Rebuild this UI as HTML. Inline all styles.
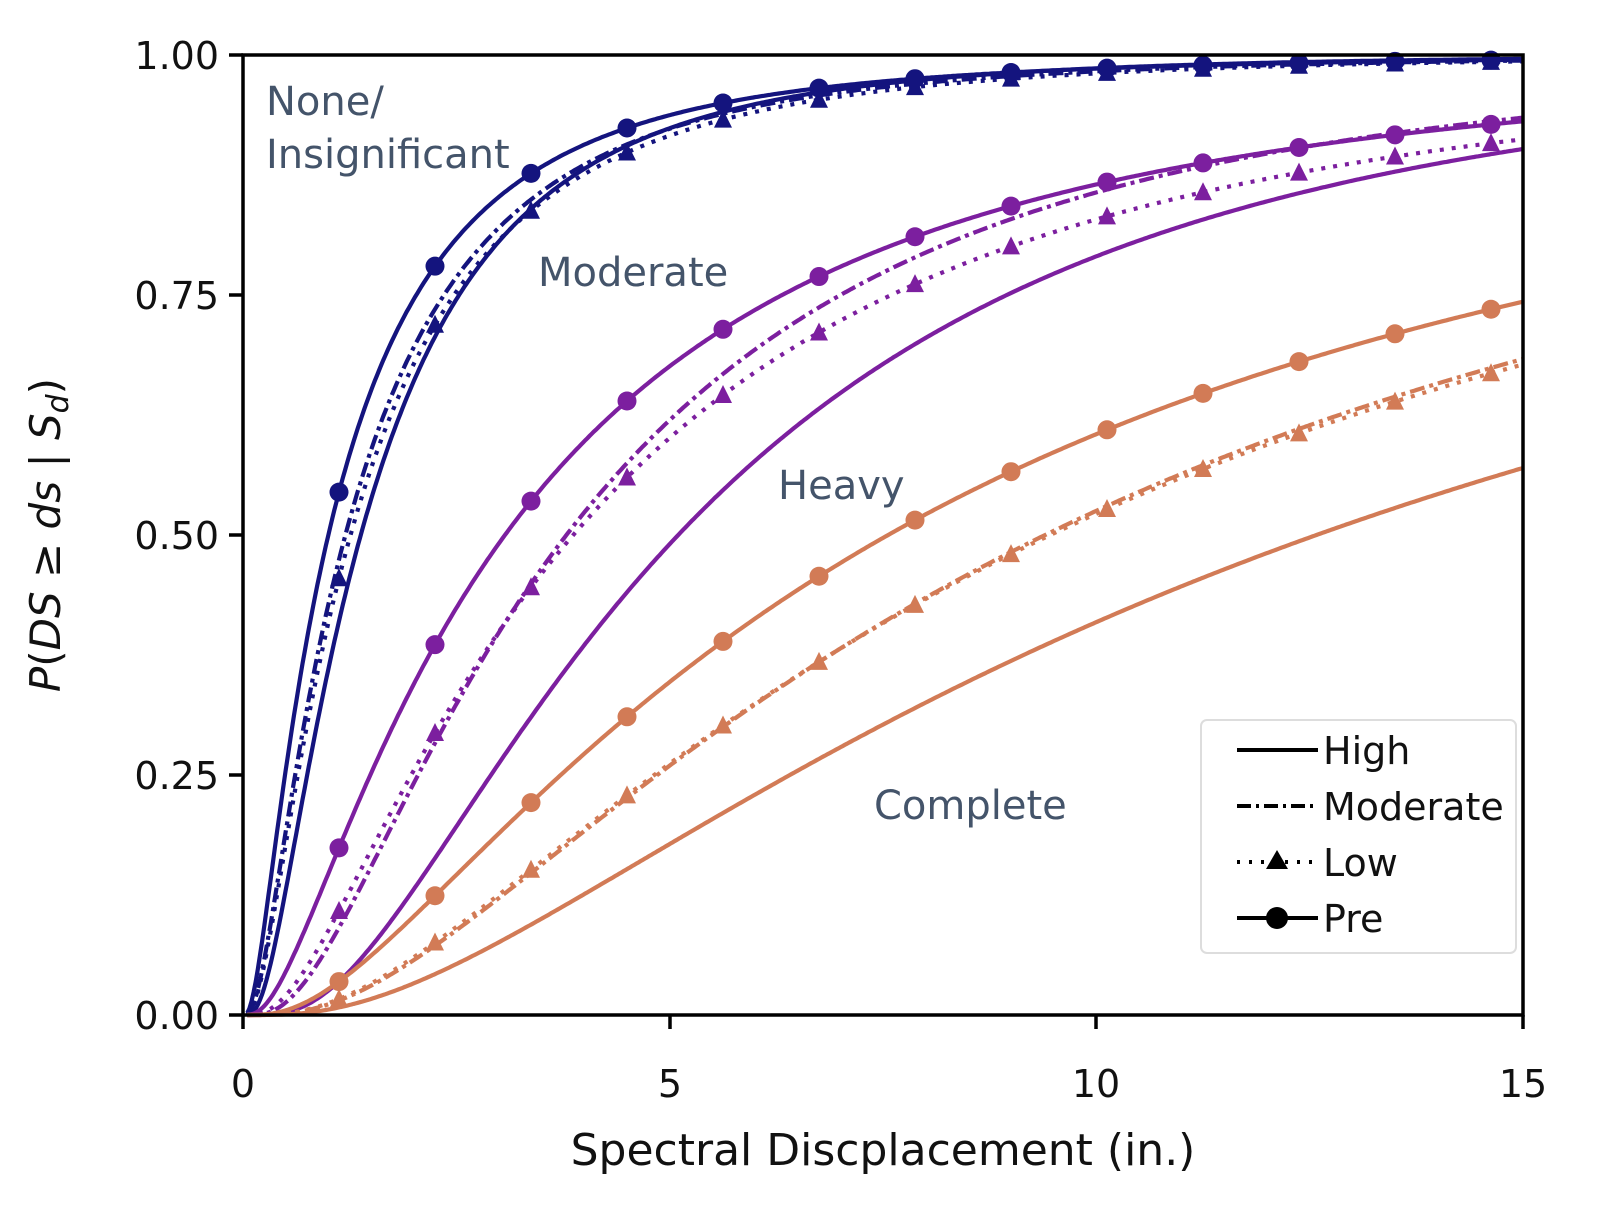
<!DOCTYPE html>
<html><head><meta charset="utf-8"><style>
html,body{margin:0;padding:0;background:#fff}
svg{display:block}
text{font-family:"DejaVu Sans","Liberation Sans",sans-serif}
</style></head><body>
<svg id="s" width="1598" height="1227" viewBox="0 0 1598 1227" xmlns="http://www.w3.org/2000/svg">
<rect width="1598" height="1227" fill="#fff"/>
<g id="curves"></g>
<rect x="243" y="55" width="1280" height="960" fill="none" stroke="#000" stroke-width="3.5"/>
<g stroke="#000" stroke-width="3.5">
<line x1="243" y1="1015" x2="243" y2="1029"/><line x1="670" y1="1015" x2="670" y2="1029"/><line x1="1096" y1="1015" x2="1096" y2="1029"/><line x1="1523" y1="1015" x2="1523" y2="1029"/>
<line x1="229" y1="1015" x2="243" y2="1015"/><line x1="229" y1="775" x2="243" y2="775"/><line x1="229" y1="535" x2="243" y2="535"/><line x1="229" y1="295" x2="243" y2="295"/><line x1="229" y1="55" x2="243" y2="55"/>
</g>
<g font-size="38" fill="#111" text-anchor="end">
<text x="219" y="1029">0.00</text><text x="219" y="789">0.25</text><text x="219" y="549">0.50</text><text x="219" y="309">0.75</text><text x="219" y="69">1.00</text>
</g>
<g font-size="38" fill="#111" text-anchor="middle">
<text x="243" y="1097">0</text><text x="670" y="1097">5</text><text x="1096" y="1097">10</text><text x="1523" y="1097">15</text>
</g>
<text x="883" y="1165" font-size="44" text-anchor="middle" fill="#111">Spectral Discplacement (in.)</text>
<text transform="translate(60,535) rotate(-90)" font-size="42" text-anchor="middle" fill="#111"><tspan font-style="italic">P</tspan>(<tspan font-style="italic">DS</tspan> ≥ <tspan font-style="italic">ds</tspan> | <tspan font-style="italic">S</tspan><tspan font-style="italic" font-size="30" dy="8">d</tspan><tspan dy="-8">)</tspan></text>
<g font-size="40" fill="#44546a">
<text x="266" y="115">None/</text>
<text x="266" y="168">Insignificant</text>
<text x="538" y="286">Moderate</text>
<text x="778" y="499">Heavy</text>
<text x="874" y="819">Complete</text>
</g>
<rect x="1201" y="720" width="315" height="233" rx="6" fill="#fff" stroke="#ddd" stroke-width="2"/>
<g stroke="#000" stroke-width="4" fill="none">
<line x1="1237" y1="750" x2="1318" y2="750"/>
<line x1="1237" y1="806" x2="1318" y2="806" stroke-dasharray="14,5,3,5"/>
<line x1="1237" y1="862" x2="1318" y2="862" stroke-dasharray="3,9"/>
<line x1="1237" y1="918" x2="1318" y2="918"/>
</g>
<polygon points="1277,850 1266,869 1288,869" fill="#000"/>
<circle cx="1277" cy="918" r="11" fill="#000"/>
<g font-size="38" fill="#111">
<text x="1323" y="764">High</text><text x="1323" y="820">Moderate</text><text x="1323" y="876">Low</text><text x="1323" y="932">Pre</text>
</g>
</svg>
<script>
function erf(x){var s=x<0?-1:1;x=Math.abs(x);var t=1/(1+0.3275911*x);var y=1-(((((1.061405429*t-1.453152027)*t)+1.421413741)*t-0.284496736)*t+0.254829592)*t*Math.exp(-x*x);return s*y;}
function cdf(x,th,b){if(x<=0)return 0;return 0.5*(1+erf(Math.log(x/th)/b/Math.SQRT2));}
function X(v){return 243+v*1280/15;}function Y(p){return 1015-p*960;}
var N="#14147e",P="#7c1f9f",O="#d27b56";
var series=[
[N,1.38,0.9,'s'],[N,1.2,1.0,'m'],[N,1.26,1.0,'l'],[N,1.0,1.05,'p'],
[P,5.1,0.834,'s'],[P,3.79,0.91,'m'],[P,3.87,1.0,'l'],[P,3.07,1.07,'p'],
[O,12.58,1.0,'s'],[O,9.4,0.98,'m'],[O,9.46,1.0,'l'],[O,7.56,1.05,'p']];
var g=document.getElementById('curves'),h="";
series.forEach(function(s){var d="";for(var i=0;i<=600;i++){var x=0.05+i*(15-0.05)/600;d+=(i?"L":"M")+X(x).toFixed(1)+","+Y(cdf(x,s[1],s[2])).toFixed(1);}
var da=s[3]=='m'?' stroke-dasharray="15,5,4,5"':(s[3]=='l'?' stroke-dasharray="4,8"':'');
h+='<path d="'+d+'" fill="none" stroke="'+s[0]+'" stroke-width="4.2"'+da+'/>';
if(s[3]=='p'||s[3]=='l'){for(var k=1;k<=13;k++){var x=k*1.125,cx=X(x),cy=Y(cdf(x,s[1],s[2]));
if(s[3]=='p')h+='<circle cx="'+cx+'" cy="'+cy+'" r="9.5" fill="'+s[0]+'"/>';
else h+='<polygon points="'+cx+','+(cy-10)+' '+(cx-9)+','+(cy+8)+' '+(cx+9)+','+(cy+8)+'" fill="'+s[0]+'"/>';}}});
g.innerHTML=h;
</script>
</body></html>
